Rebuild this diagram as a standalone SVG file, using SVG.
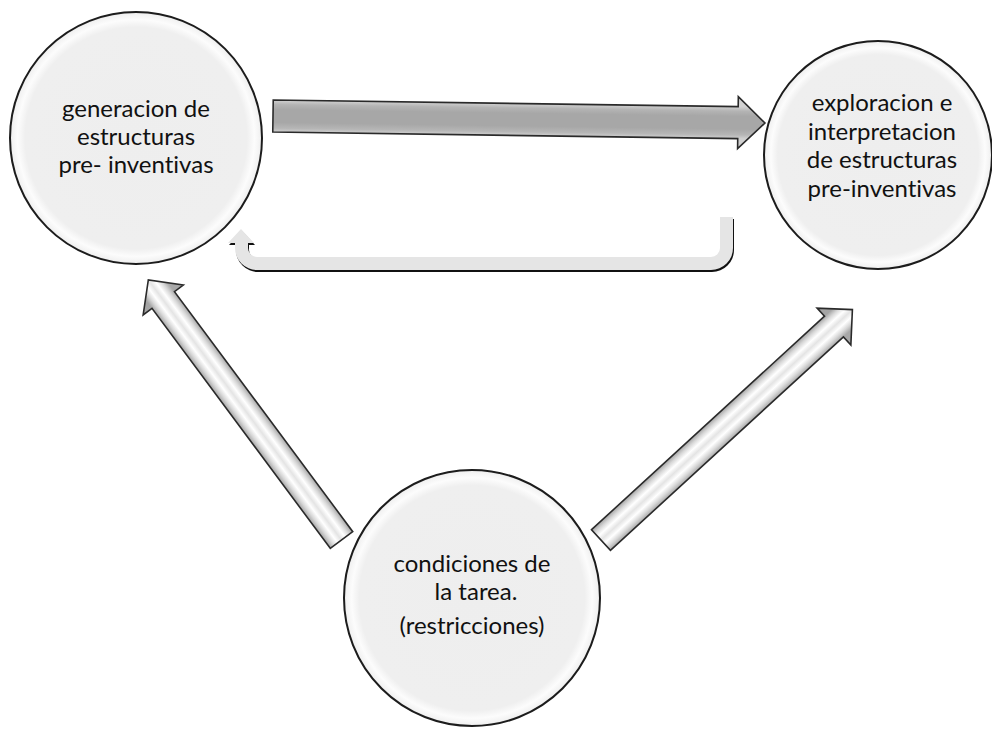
<svg xmlns="http://www.w3.org/2000/svg" width="992" height="729" viewBox="0 0 992 729">
  <style>
    .node-circle { fill: url(#discFill); stroke: #1c1c1c; stroke-width: 2; }
    .label { font-family: "Lato", "Open Sans", sans-serif; font-size: 24px; fill: #111111; text-anchor: middle; font-variant-ligatures: none; }
    .arrow-outline { stroke: #2a2a2a; stroke-width: 1.6; stroke-linejoin: miter; }
  </style>
  <defs>
    <!-- soft disc with a pale rim just inside the border -->
    <radialGradient id="discFill" cx="0.5" cy="0.5" r="0.5">
      <stop offset="0" stop-color="#eeeeee"/>
      <stop offset="0.88" stop-color="#efefef"/>
      <stop offset="0.94" stop-color="#fcfcfc"/>
      <stop offset="0.985" stop-color="#f2f2f2"/>
      <stop offset="1" stop-color="#e2e2e2"/>
    </radialGradient>
    <!-- darker flat arrow body -->
    <linearGradient id="darkBody" gradientUnits="userSpaceOnUse" x1="0" y1="-16" x2="0" y2="16">
      <stop offset="0" stop-color="#d2d2d2"/>
      <stop offset="0.14" stop-color="#b4b4b4"/>
      <stop offset="0.3" stop-color="#a7a7a7"/>
      <stop offset="0.7" stop-color="#a7a7a7"/>
      <stop offset="0.88" stop-color="#b6b6b6"/>
      <stop offset="1" stop-color="#d0d0d0"/>
    </linearGradient>
    <!-- bevelled light arrow body -->
    <linearGradient id="lightBody" gradientUnits="userSpaceOnUse" x1="0" y1="-14" x2="0" y2="14">
      <stop offset="0" stop-color="#a4a4a4"/>
      <stop offset="0.16" stop-color="#d8d8d8"/>
      <stop offset="0.33" stop-color="#ffffff"/>
      <stop offset="0.5" stop-color="#e4e4e4"/>
      <stop offset="0.67" stop-color="#ffffff"/>
      <stop offset="0.84" stop-color="#d8d8d8"/>
      <stop offset="1" stop-color="#a8a8a8"/>
    </linearGradient>
  </defs>

  <rect width="992" height="729" fill="#ffffff"/>

  <!-- connectors -->
  <g id="connectors">
    <!-- generation -> exploration -->
    <g id="arrow-top" transform="translate(273,116) rotate(0.82)">
      <path class="arrow-outline" fill="url(#darkBody)" d="M0,-16 L465,-16 L465,-26 L492,0 L465,26 L465,16 L0,16 Z"/>
    </g>
    <!-- exploration -> generation (return loop) -->
    <g id="arrow-return">
      <path fill="#111111" transform="translate(1,2)" d="M720,217 L733,217 L733,248 A22,22 0 0 1 711,270 L257,270 A22,22 0 0 1 235,248 L235,243 L228,243 L241,229 L254,243 L248,243 L248,248 A9,9 0 0 0 257,257 L711,257 A9,9 0 0 0 720,248 Z"/>
      <path fill="#e5e5e5" d="M720,217 L733,217 L733,248 A22,22 0 0 1 711,270 L257,270 A22,22 0 0 1 235,248 L235,243 L228,243 L241,229 L254,243 L248,243 L248,248 A9,9 0 0 0 257,257 L711,257 A9,9 0 0 0 720,248 Z"/>
    </g>
    <!-- task conditions -> generation -->
    <g id="arrow-left" transform="translate(341.5,540) rotate(-126.6)">
      <path class="arrow-outline" fill="url(#lightBody)" d="M0,-14 L299,-14 L299,-25 L324,0 L299,25 L299,14 L0,14 Z"/>
    </g>
    <!-- task conditions -> exploration -->
    <g id="arrow-right" transform="translate(601,540) rotate(-42.5)">
      <path class="arrow-outline" fill="url(#lightBody)" d="M0,-14 L316,-14 L316,-25 L341,0 L316,25 L316,14 L0,14 Z"/>
    </g>
  </g>

  <!-- nodes -->
  <g id="node-generacion">
    <circle class="node-circle" cx="136" cy="138" r="126"/>
    <text class="label" x="136" y="117">generacion de</text>
    <text class="label" x="136" y="145">estructuras</text>
    <text class="label" x="136" y="173">pre- inventivas</text>
  </g>

  <g id="node-exploracion">
    <circle class="node-circle" cx="878" cy="155" r="114"/>
    <text class="label" x="882" y="111">exploracion e</text>
    <text class="label" x="882" y="140">interpretacion</text>
    <text class="label" x="882" y="168">de estructuras</text>
    <text class="label" x="882" y="197">pre-inventivas</text>
  </g>

  <g id="node-condiciones">
    <circle class="node-circle" cx="472" cy="598" r="128"/>
    <text class="label" x="472" y="572">condiciones de</text>
    <text class="label" x="476" y="600">la tarea.</text>
    <text class="label" x="472" y="634">(restricciones)</text>
  </g>
</svg>
